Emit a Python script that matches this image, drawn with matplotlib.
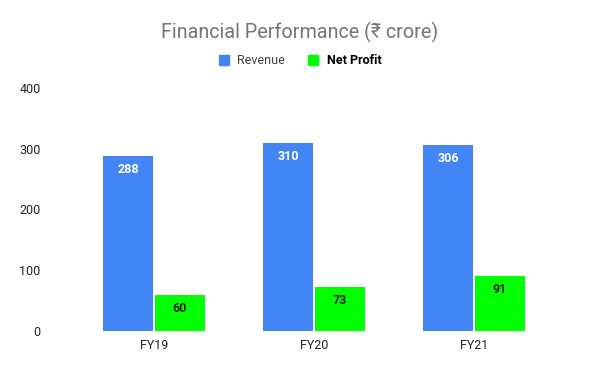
import matplotlib
matplotlib.use("Agg")
import matplotlib.pyplot as plt
import numpy as np
from matplotlib.patches import Patch

categories = ["FY19", "FY20", "FY21"]
revenue = [288, 310, 306]
net_profit = [60, 73, 91]
yticks = [0, 100, 200, 300, 400]

plt.rcParams['font.family'] = ['Roboto', 'DejaVu Sans']

fig = plt.figure(figsize=(6, 3.71), dpi=100)
ax = fig.add_axes([74/600, 40/371, 480/600, 243/371])

x = np.arange(len(categories))
w = 0.3125
off = 0.1625
b1 = ax.bar(x - off, revenue, width=w, color="#4285F4")
b2 = ax.bar(x + off, net_profit, width=w, color="#00FF00")

for rect, v in zip(b1, revenue):
    ax.annotate(str(v), (rect.get_x() + rect.get_width()/2, v), xytext=(0, -10),
                textcoords="offset points", ha="center", va="center",
                color="white", fontsize=9, fontweight="bold")
for rect, v in zip(b2, net_profit):
    ax.annotate(str(v), (rect.get_x() + rect.get_width()/2, v), xytext=(0, -10),
                textcoords="offset points", ha="center", va="center",
                color="#222222", fontsize=9, fontweight="bold")

ax.set_xlim(-0.5, len(categories) - 0.5)
ax.set_ylim(0, 400)
ax.set_yticks(yticks)
ax.set_yticklabels([str(t) for t in yticks])
ax.set_xticks(x)
ax.set_xticklabels(categories)
for s in ax.spines.values():
    s.set_visible(False)
ax.tick_params(axis="both", length=0, labelsize=9, labelcolor="#222222")
ax.tick_params(axis="y", pad=24)
ax.tick_params(axis="x", pad=6)

fig.text(0.5, 1 - 32/371, "Financial Performance (₹ crore)", ha="center", va="center",
         fontsize=14.2, color="#757575")

handles = [Patch(color="#4285F4"), Patch(color="#00FF00")]
leg = fig.legend(handles, ["Revenue", "Net Profit"], loc="center",
                 bbox_to_anchor=(0.5, 1 - 61/371), ncol=2, frameon=False,
                 fontsize=9, handlelength=0.8, handleheight=0.8,
                 handletextpad=0.7, columnspacing=1.8)
texts = leg.get_texts()
texts[0].set_color("#444444")
texts[1].set_color("#000000")
texts[1].set_fontweight("bold")

fig.savefig("out.png", dpi=100)
